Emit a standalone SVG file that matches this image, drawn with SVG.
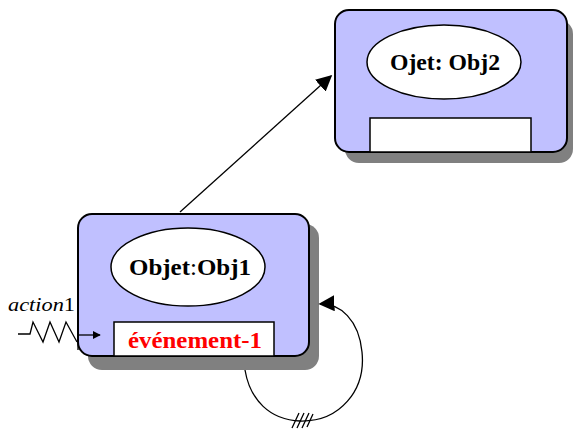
<svg xmlns="http://www.w3.org/2000/svg" width="573" height="434" viewBox="0 0 573 434">
<style>
.shadow{fill:#808080}
.box{fill:#c0c0ff;stroke:#000;stroke-width:2}
.ell{fill:#fff;stroke:#000;stroke-width:1.5}
.slot{fill:#fff;stroke:#000;stroke-width:1.5}
.lbl{font-family:"Liberation Serif",serif;font-weight:bold;font-size:23px;text-anchor:middle}
.ln{fill:none;stroke:#000;stroke-width:1.3}
</style>
<defs>
<marker id="ah" viewBox="0 0 10 10" refX="9" refY="5" markerWidth="8" markerHeight="8" markerUnits="userSpaceOnUse" orient="auto">
<path d="M0,0 L10,5 L0,10 z" fill="#000"/>
</marker>
<marker id="ahb" viewBox="0 0 10 10" refX="9" refY="5" markerWidth="16" markerHeight="16" markerUnits="userSpaceOnUse" orient="auto">
<path d="M0,0 L10,5 L0,10 z" fill="#000"/>
</marker>
</defs>
<g id="obj2">
<rect class="shadow" x="345" y="20" width="228" height="143" rx="14"/>
<rect class="box" x="335" y="10" width="232" height="142" rx="14"/>
<ellipse class="ell" cx="444" cy="62" rx="77" ry="37"/>
<text class="lbl" x="445" y="70" textLength="110" lengthAdjust="spacingAndGlyphs">Ojet: Obj2</text>
<rect class="slot" x="370" y="118" width="161" height="34"/>
</g>
<g id="obj1">
<rect class="shadow" x="88" y="224" width="231" height="146" rx="14"/>
<rect class="box" x="78" y="214" width="231" height="142" rx="14"/>
<ellipse class="ell" cx="188" cy="267" rx="77" ry="39"/>
<text class="lbl" x="190" y="275" textLength="122" lengthAdjust="spacingAndGlyphs">Objet<tspan font-weight="normal">:</tspan>Obj1</text>
<rect class="slot" x="114" y="322" width="160" height="34"/>
<text class="lbl" x="195" y="348" fill="#ff0000" textLength="134" lengthAdjust="spacingAndGlyphs">événement-1</text>
</g>
<g id="connectors">
<line class="ln" x1="180" y1="212" x2="331" y2="76" marker-end="url(#ahb)"/>
<path class="ln" d="M245,370 C250,400 270,420 300,421 C340,422 366,390 362,352 C359,320 340,303 320,304" marker-end="url(#ahb)"/>
<path class="ln" d="M292,428 L299,413 M297,428 L304,413 M302,428 L309,413 M307,427 L313,414"/>
<g id="action1">
<text x="8" y="311" font-family="Liberation Serif,serif" font-size="18px" textLength="67" lengthAdjust="spacingAndGlyphs"><tspan font-style="italic">action</tspan>1</text>
<polyline class="ln" points="18,334 30,334 33,322 43,342 50,322 59,342 66,322 77,342"/>
<path class="ln" d="M78,336 L78,350"/>
<line class="ln" x1="79" y1="335" x2="100" y2="335" marker-end="url(#ah)"/>
</g>
</g>
</svg>
